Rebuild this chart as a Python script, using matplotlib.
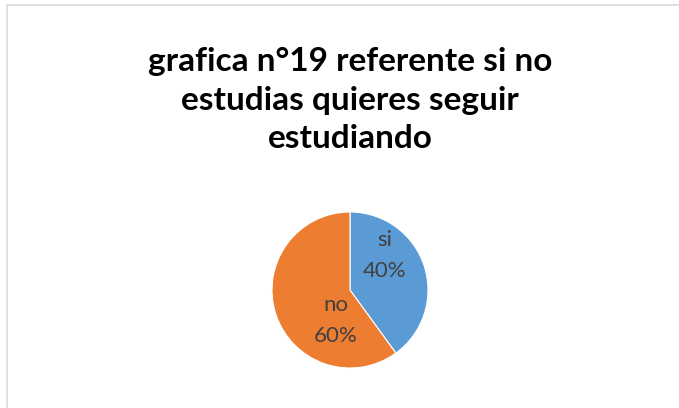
import matplotlib
matplotlib.use('Agg')
import matplotlib.pyplot as plt
from matplotlib.patches import Rectangle

# Data
labels = ['si', 'no']
values = [40, 60]
colors = ['#5B9BD5', '#ED7D31']
title = 'grafica n°19 referente si no\nestudias quieres seguir\nestudiando'

W, H = 679, 408
fig = plt.figure(figsize=(W / 100, H / 100), dpi=100)

# light gray chart border (right/bottom edges run off the image)
fig.patches.append(Rectangle((7 / W, -0.1), 1.2, (H - 5) / H + 0.1,
                             transform=fig.transFigure, fill=False,
                             edgecolor='#D9D9D9', linewidth=1.2))

fig.text(350 / W, 1 - 100 / H, title, ha='center', va='center',
         fontsize=24, fontweight='bold', family='Lato', color='black',
         linespacing=1.38)

# pie axes: centre (350, 290) px, radius 78 px
cx, cy, r = 350, 290, 78
ax = fig.add_axes([(cx - r) / W, (H - cy - r) / H, 2 * r / W, 2 * r / H])
wedges, texts = ax.pie(
    values, colors=colors, startangle=90, counterclock=False,
    wedgeprops=dict(edgecolor='white', linewidth=0.8))
ax.set_xlim(-1, 1)
ax.set_ylim(-1, 1)
ax.set_aspect('auto')
ax.axis('off')

label_pos = [(0.44, 0.44), (-0.18, -0.39)]
for lab, val, (x, y) in zip(labels, values, label_pos):
    ax.text(x, y, f'{lab}\n{val}%', ha='center', va='center', fontsize=16,
            family='Lato', color='#404040', linespacing=1.7)

fig.savefig('out.png', dpi=100)
